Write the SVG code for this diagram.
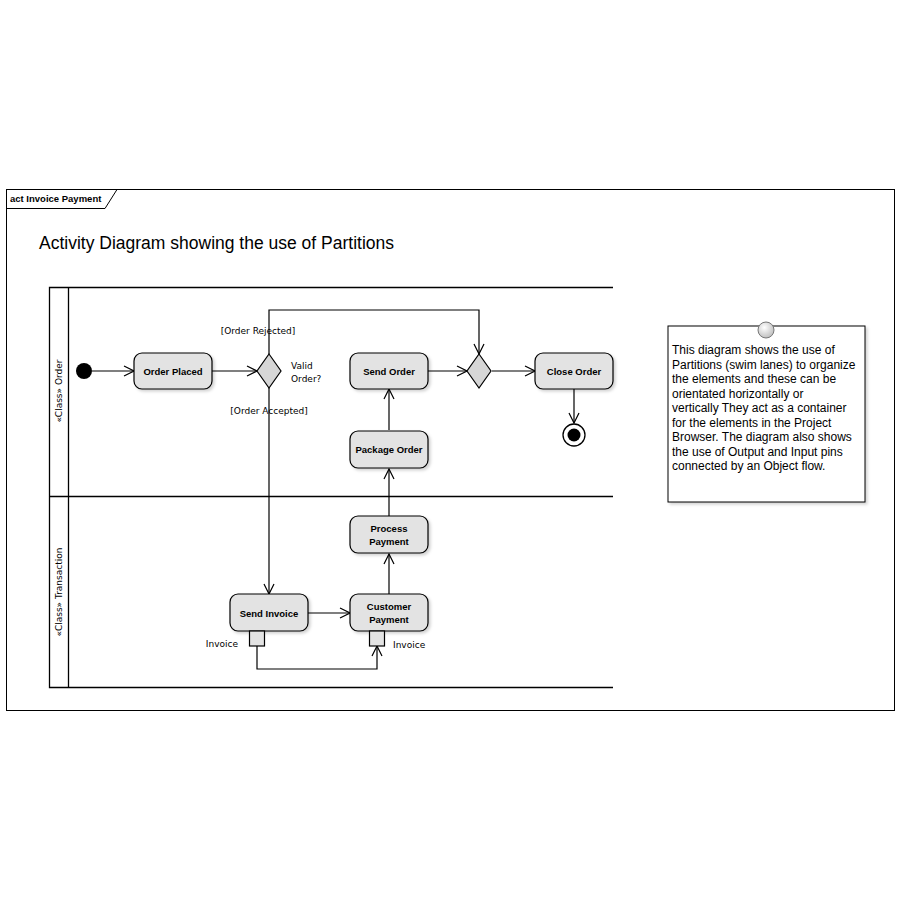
<svg xmlns="http://www.w3.org/2000/svg" width="900" height="900" viewBox="0 0 900 900">
<style>
.ln{fill:none;stroke:#000;stroke-width:1.2}
.act{fill:#e3e3e3;stroke:#000;stroke-width:1.2}
.dia{fill:#d6d6d6;stroke:#000;stroke-width:1.2}
.nt{font-family:"Liberation Sans",Arial,sans-serif;font-size:9.5px;font-weight:bold;fill:#000;text-anchor:middle}
.lb{font-family:"DejaVu Sans","Liberation Sans",sans-serif;font-size:9px;fill:#000}
.note{font-family:"Liberation Sans",Arial,sans-serif;font-size:12px;fill:#000}
</style>
<defs>
<marker id="ar" viewBox="0 0 12 12" refX="11" refY="6" markerWidth="12" markerHeight="12" markerUnits="userSpaceOnUse" orient="auto">
<path d="M1,1 L11,6 L1,11" fill="none" stroke="#000" stroke-width="1.2"/>
</marker>
<filter id="sh" x="-10%" y="-10%" width="130%" height="140%">
<feDropShadow dx="2" dy="2" stdDeviation="1.5" flood-color="#000" flood-opacity="0.18"/>
</filter>
<radialGradient id="pg" cx="40%" cy="35%" r="70%"><stop offset="0" stop-color="#fff"/><stop offset="1" stop-color="#bbb"/></radialGradient>
</defs>
<rect width="900" height="900" fill="#fff"/>
<g id="frame">
<rect x="6.5" y="189.5" width="888" height="521" fill="none" stroke="#000" stroke-width="1"/>
<path d="M6.5,208.5 H105 L117,189.5" fill="none" stroke="#000" stroke-width="1"/>
<text x="10" y="201.5" font-family="Liberation Sans,Arial,sans-serif" font-size="9.5px" font-weight="bold">act Invoice Payment</text>
<text x="39" y="249" font-family="Liberation Sans,Arial,sans-serif" font-size="17.5px">Activity Diagram showing the use of Partitions</text>
</g>
<g id="partitions">
<path d="M613,287.5 H49.5 V687.5 H613 M68.5,287.5 V687.5 M49.5,496.5 H613" fill="none" stroke="#000" stroke-width="1.3"/>
<text transform="translate(62,391) rotate(-90)" text-anchor="middle" class="lb" font-size="10px">«Class» Order</text>
<text transform="translate(62,592) rotate(-90)" text-anchor="middle" class="lb" font-size="10px">«Class» Transaction</text>
</g>
<g id="connectors">
<path class="ln" d="M92,371 H134" marker-end="url(#ar)"/>
<path class="ln" d="M212,371 H257" marker-end="url(#ar)"/>
<path class="ln" d="M269,354 V310 H479 V354" marker-end="url(#ar)"/>
<path class="ln" d="M269,388 V594" marker-end="url(#ar)"/>
<path class="ln" d="M428,371 H467" marker-end="url(#ar)"/>
<path class="ln" d="M492,371 H535" marker-end="url(#ar)"/>
<path class="ln" d="M574,389 V423" marker-end="url(#ar)"/>
<path class="ln" d="M389,430 V389" marker-end="url(#ar)"/>
<path class="ln" d="M389,516 V469" marker-end="url(#ar)"/>
<path class="ln" d="M389,594 V554" marker-end="url(#ar)"/>
<path class="ln" d="M308,613 H350" marker-end="url(#ar)"/>
<path class="ln" d="M257,646 V669 H377 V646" marker-end="url(#ar)"/>
<text class="lb" x="258" y="334" text-anchor="middle">[Order Rejected]</text>
<text class="lb" x="269" y="414" text-anchor="middle">[Order Accepted]</text>
<text class="lb" x="291" y="369">Valid</text>
<text class="lb" x="291" y="382">Order?</text>
<text class="lb" x="238" y="647" text-anchor="end">Invoice</text>
<text class="lb" x="393" y="648">Invoice</text>
</g>
<g id="initial"><circle cx="84" cy="371" r="8" fill="#000"/></g>
<g id="orderPlaced"><rect class="act" x="134" y="353" width="78" height="36" rx="8" filter="url(#sh)"/><text class="nt" x="173" y="375">Order Placed</text></g>
<g id="decision"><path class="dia" d="M269,354 L281,371 L269,388 L257,371 Z"/></g>
<g id="merge"><path class="dia" d="M479,354 L491,371 L479,388 L467,371 Z"/></g>
<g id="sendOrder"><rect class="act" x="350" y="353" width="78" height="36" rx="8" filter="url(#sh)"/><text class="nt" x="389" y="375">Send Order</text></g>
<g id="closeOrder"><rect class="act" x="535" y="353" width="78" height="36" rx="8" filter="url(#sh)"/><text class="nt" x="574" y="375">Close Order</text></g>
<g id="final"><circle cx="574" cy="435" r="11" fill="#fff" stroke="#000" stroke-width="1.3"/><circle cx="574" cy="435" r="6.5" fill="#000"/></g>
<g id="packageOrder"><rect class="act" x="350" y="431" width="78" height="37" rx="8" filter="url(#sh)"/><text class="nt" x="389" y="453">Package Order</text></g>
<g id="processPayment"><rect class="act" x="350" y="516" width="78" height="37" rx="8" filter="url(#sh)"/><text class="nt" x="389" y="532">Process</text><text class="nt" x="389" y="545">Payment</text></g>
<g id="sendInvoice"><rect class="act" x="230" y="594" width="78" height="37" rx="8" filter="url(#sh)"/><text class="nt" x="269" y="617">Send Invoice</text></g>
<g id="customerPayment"><rect class="act" x="350" y="594" width="78" height="37" rx="8" filter="url(#sh)"/><text class="nt" x="389" y="610">Customer</text><text class="nt" x="389" y="623">Payment</text></g>
<g id="pinOut"><rect class="act" x="249.5" y="631" width="15" height="15" stroke-width="1"/></g>
<g id="pinIn"><rect class="act" x="369.5" y="631" width="15" height="15" stroke-width="1"/></g>
<g id="note">
<rect x="668" y="326" width="197" height="176" fill="#fff" stroke="#000" stroke-width="1" filter="url(#sh)"/>
<circle cx="766" cy="330" r="8" fill="url(#pg)" stroke="#777" stroke-width="1"/>
<text class="note" x="672" y="354">This diagram shows the use of</text>
<text class="note" x="672" y="368.5">Partitions (swim lanes) to organize</text>
<text class="note" x="672" y="383">the elements and these can be</text>
<text class="note" x="672" y="397.5">orientated horizontally or</text>
<text class="note" x="672" y="412">vertically  They act as a container</text>
<text class="note" x="672" y="426.5">for the elements in the Project</text>
<text class="note" x="672" y="441">Browser. The diagram also shows</text>
<text class="note" x="672" y="455.5">the use of Output and Input pins</text>
<text class="note" x="672" y="470">connected by an Object flow.</text>
</g>
</svg>
